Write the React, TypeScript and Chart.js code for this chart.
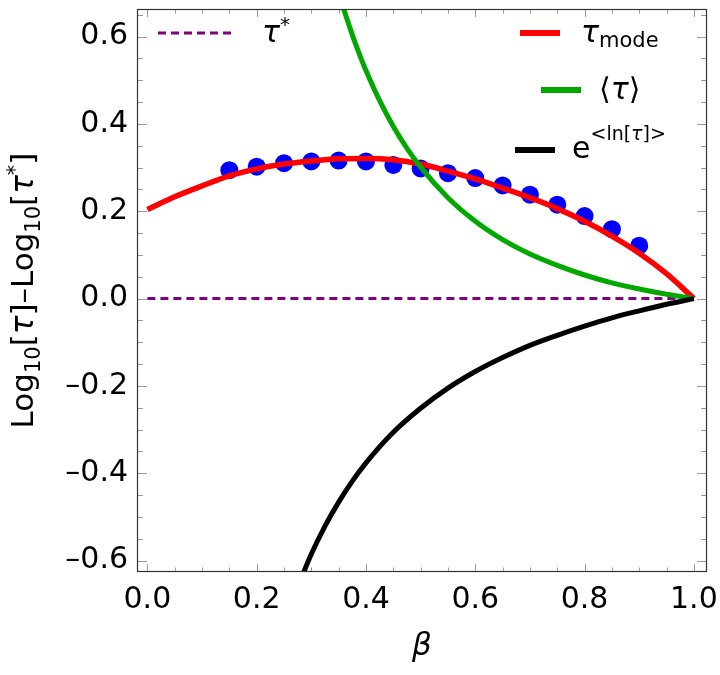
import React, { useEffect, useRef } from "react";
import { Chart, registerables } from "chart.js";
Chart.register(...registerables);

// ---- data ----
const betaDots = [0.15, 0.2, 0.25, 0.3, 0.35, 0.4, 0.45, 0.5, 0.55, 0.6, 0.65, 0.7, 0.75, 0.8, 0.85, 0.9];
const dotValues = [0.294, 0.302, 0.31, 0.314, 0.316, 0.314, 0.306, 0.298, 0.287, 0.276, 0.259, 0.238, 0.215, 0.189, 0.159, 0.121];

const betaMode = [0, 0.05, 0.1, 0.15, 0.2, 0.25, 0.3, 0.35, 0.4, 0.45, 0.5, 0.55, 0.6, 0.65, 0.7, 0.75, 0.8, 0.85, 0.9, 0.95, 1.0];
const modeValues = [0.204, 0.233, 0.258, 0.281, 0.297, 0.308, 0.315, 0.32, 0.321, 0.318, 0.308, 0.292, 0.274, 0.253, 0.231, 0.206, 0.177, 0.143, 0.104, 0.057, 0];

const betaMean = [0.355, 0.36, 0.37, 0.38, 0.39, 0.4, 0.425, 0.45, 0.475, 0.5, 0.55, 0.6, 0.65, 0.7, 0.75, 0.8, 0.85, 0.9, 0.95, 1.0];
const meanValues = [0.681, 0.66, 0.622, 0.586, 0.553, 0.522, 0.453, 0.394, 0.344, 0.301, 0.231, 0.177, 0.135, 0.102, 0.076, 0.054, 0.036, 0.022, 0.01, 0];

const betaLog = [0.28, 0.3, 0.325, 0.35, 0.375, 0.4, 0.45, 0.5, 0.55, 0.6, 0.65, 0.7, 0.75, 0.8, 0.85, 0.9, 0.95, 1.0];
const logValues = [-0.645, -0.585, -0.521, -0.466, -0.418, -0.376, -0.306, -0.251, -0.205, -0.167, -0.135, -0.107, -0.084, -0.063, -0.044, -0.028, -0.013, 0];

const betaStar = [0, 1];
const starValues = [0, 0];

const xTicks = [0, 0.2, 0.4, 0.6, 0.8, 1.0];
const yTicks = [-0.6, -0.4, -0.2, 0, 0.2, 0.4, 0.6];
const minorStep = 0.05;

const FONT = '"DejaVu Sans"';
const zip = (xs: number[], ys: number[]) => xs.map((x, i) => ({ x, y: ys[i] }));
const fmt = (v: number) => {
  const s = Math.abs(v).toFixed(1);
  return v < -1e-9 ? "\u2013" + s : s;
};

type Run = { t: string; f: string; dy?: number };
function drawRuns(ctx: CanvasRenderingContext2D, runs: Run[], x: number, y: number, center: boolean) {
  let w = 0;
  for (const r of runs) {
    ctx.font = r.f;
    w += ctx.measureText(r.t).width;
  }
  let cx = center ? x - w / 2 : x;
  for (const r of runs) {
    ctx.font = r.f;
    ctx.fillText(r.t, cx, y + (r.dy || 0));
    cx += ctx.measureText(r.t).width;
  }
}

const decor = {
  id: "decor",
  beforeDatasetsDraw(chart: any) {
    const { ctx, chartArea: a, scales } = chart;
    const xs = scales.x, ys = scales.y;
    ctx.save();
    ctx.strokeStyle = "#9a9a9a";
    ctx.lineWidth = 1;
    ctx.beginPath();
    for (let i = 0; i <= 20; i++) {
      const v = i * minorStep;
      const major = i % 4 === 0;
      const px = Math.round(xs.getPixelForValue(v)) + 0.5;
      const L = major ? 8 : 4.5;
      ctx.moveTo(px, a.bottom); ctx.lineTo(px, a.bottom - L);
      ctx.moveTo(px, a.top); ctx.lineTo(px, a.top + L);
    }
    for (let i = -12; i <= 13; i++) {
      const v = i * minorStep;
      if (v < ys.min || v > ys.max) continue;
      const major = i % 4 === 0;
      const py = Math.round(ys.getPixelForValue(v)) + 0.5;
      const L = major ? 10 : 6;
      ctx.moveTo(a.left, py); ctx.lineTo(a.left + L, py);
      ctx.moveTo(a.right, py); ctx.lineTo(a.right - L, py);
    }
    ctx.stroke();
    ctx.restore();
  },
  afterDraw(chart: any) {
    const { ctx, chartArea: a } = chart;
    ctx.save();
    // frame
    ctx.strokeStyle = "#333";
    ctx.lineWidth = 1.2;
    ctx.strokeRect(a.left + 0.5, a.top + 0.5, a.right - a.left - 1, a.bottom - a.top - 1);

    ctx.fillStyle = "#000";
    ctx.textBaseline = "alphabetic";
    ctx.textAlign = "left";
    const main = `30px ${FONT}`;
    const ital = `italic 30px ${FONT}`;
    const small = `20px ${FONT}`;

    // legend: tau*
    ctx.strokeStyle = "#800080";
    ctx.lineWidth = 3;
    ctx.setLineDash([8, 5]);
    ctx.beginPath(); ctx.moveTo(158, 33); ctx.lineTo(231, 33); ctx.stroke();
    ctx.setLineDash([]);
    drawRuns(ctx, [{ t: "\u03C4", f: ital }, { t: "*", f: small, dy: -11 }], 262, 42, false);

    // legend: tau_mode
    ctx.lineWidth = 6;
    ctx.strokeStyle = "#ff0000";
    ctx.beginPath(); ctx.moveTo(520, 33); ctx.lineTo(560, 33); ctx.stroke();
    drawRuns(ctx, [{ t: "\u03C4", f: ital }, { t: "mode", f: `21px ${FONT}`, dy: 5 }], 581, 42, false);

    // legend: <tau>
    ctx.strokeStyle = "#00a800";
    ctx.beginPath(); ctx.moveTo(541, 90); ctx.lineTo(581, 90); ctx.stroke();
    drawRuns(ctx, [{ t: "\u27E8", f: main }, { t: "\u03C4", f: ital }, { t: "\u27E9", f: main }], 599, 99, false);

    // legend: e^<ln[tau]>
    ctx.strokeStyle = "#000";
    ctx.beginPath(); ctx.moveTo(515, 150); ctx.lineTo(555, 150); ctx.stroke();
    drawRuns(ctx, [
      { t: "e", f: main },
      { t: "<ln[", f: `19px ${FONT}`, dy: -18 },
      { t: "\u03C4", f: `italic 19px ${FONT}`, dy: -18 },
      { t: "]>", f: `19px ${FONT}`, dy: -18 },
    ], 572, 158, false);

    // x title
    drawRuns(ctx, [{ t: "\u03B2", f: `italic 31px ${FONT}` }], (a.left + a.right) / 2, 655, true);

    // y title
    ctx.translate(33, (a.top + a.bottom) / 2);
    ctx.rotate(-Math.PI / 2);
    const yf = `31px ${FONT}`;
    const yi = `italic 31px ${FONT}`;
    const ys = `21px ${FONT}`;
    drawRuns(ctx, [
      { t: "Log", f: yf }, { t: "10", f: ys, dy: 7 }, { t: "[", f: yf }, { t: "\u03C4", f: yi }, { t: "]", f: yf },
      { t: "\u2013", f: yf },
      { t: "Log", f: yf }, { t: "10", f: ys, dy: 7 }, { t: "[", f: yf }, { t: "\u03C4", f: yi }, { t: "*", f: ys, dy: -11 }, { t: "]", f: yf },
    ], 0, 0, true);
    ctx.restore();
  },
};

export default function App() {
  const ref = useRef<HTMLCanvasElement>(null);
  useEffect(() => {
    document.body.style.margin = "0";
    const clip = { left: 0, top: 0, right: 0, bottom: 0 };
    const lineBase = { pointRadius: 0, fill: false, cubicInterpolationMode: "monotone" as const, clip, borderCapStyle: "butt" as const };
    const chart = new Chart(ref.current as HTMLCanvasElement, {
      type: "line",
      data: {
        datasets: [
          { ...lineBase, label: "exp<ln tau>", data: zip(betaLog, logValues), borderColor: "#000000", borderWidth: 5 },
          { ...lineBase, label: "<tau>", data: zip(betaMean, meanValues), borderColor: "#00a800", borderWidth: 5 },
          { ...lineBase, label: "tau_mode", data: zip(betaMode, modeValues), borderColor: "#ff0000", borderWidth: 5.5 },
          { label: "simulation", data: zip(betaDots, dotValues), showLine: false, pointRadius: 9, pointHoverRadius: 9, pointBackgroundColor: "#0000ff", pointBorderWidth: 0, borderColor: "#0000ff", clip },
          { ...lineBase, label: "tau*", data: zip(betaStar, starValues), borderColor: "#800080", borderWidth: 3, borderDash: [8, 5] },
        ],
      },
      options: {
        animation: false,
        responsive: false,
        devicePixelRatio: 1,
        layout: { padding: { top: 3, right: 13, left: 0, bottom: 0 } },
        plugins: { legend: { display: false }, tooltip: { enabled: false } },
        scales: {
          x: {
            type: "linear",
            min: -0.019,
            max: 1.024,
            afterBuildTicks: (s: any) => { s.ticks = xTicks.map((v) => ({ value: v })); },
            afterFit: (s: any) => { s.height = 103; s.paddingLeft = 0; s.paddingRight = 0; s.paddingTop = 0; s.paddingBottom = 0; },
            grid: { display: false, drawTicks: false },
            border: { display: false },
            ticks: { color: "#000", font: { family: FONT, size: 30 }, padding: 10, maxRotation: 0, autoSkip: false, callback: (v: any) => fmt(Number(v)) },
          },
          y: {
            type: "linear",
            min: -0.626,
            max: 0.663,
            afterBuildTicks: (s: any) => { s.ticks = yTicks.map((v) => ({ value: v })); },
            afterFit: (s: any) => { s.width = 137; s.paddingLeft = 0; s.paddingRight = 0; s.paddingTop = 0; s.paddingBottom = 0; },
            grid: { display: false, drawTicks: false },
            border: { display: false },
            ticks: { color: "#000", font: { family: FONT, size: 30 }, padding: 9, autoSkip: false, callback: (v: any) => fmt(Number(v)) },
          },
        },
      },
      plugins: [decor],
    });
    return () => chart.destroy();
  }, []);
  return (
    <div style={{ width: 720, height: 675 }}>
      <canvas ref={ref} width={720} height={675} />
    </div>
  );
}
